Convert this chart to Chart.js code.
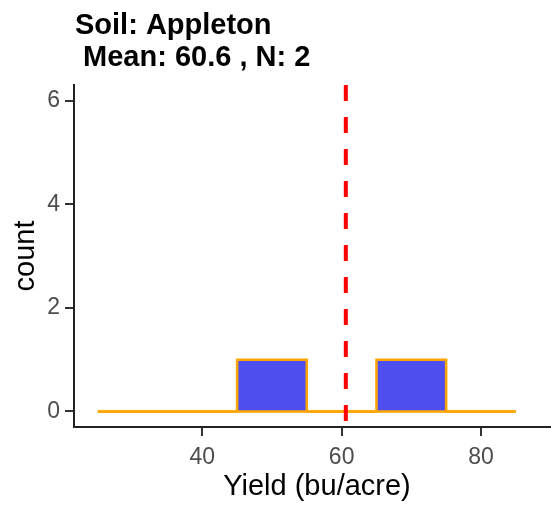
<!DOCTYPE html>
<html>
<head>
<meta charset="utf-8">
<title>Soil: Appleton</title>
<script src="https://cdn.jsdelivr.net/npm/chart.js@4.4.1/dist/chart.umd.min.js"></script>
<style>
    html, body { margin: 0; padding: 0; background: #ffffff; overflow: hidden; }
    #wrap { width: 551px; height: 508px; overflow: hidden; }
</style>
</head>
<body>
<div id="wrap"><canvas id="histChart" width="562" height="508"></canvas></div>
<script>
// Histogram data (bins of width 10)
const binEdges = [25, 35, 45, 55, 65, 75, 85];
const binCounts = [0, 0, 1, 0, 1, 0];
const meanYield = [60.6];
const sampleN = [2];
const xTicks = [40, 60, 80];
const yTicks = [0, 2, 4, 6];

const FONT = '"Liberation Sans", Arial, sans-serif';

// contour of the bars, built from bin edges and counts
const outline = [{ x: binEdges[0], y: 0 }];
binCounts.forEach(function(c, i) {
    outline.push({ x: binEdges[i], y: c });
    outline.push({ x: binEdges[i + 1], y: c });
});
outline.push({ x: binEdges[binEdges.length - 1], y: 0 });

const baseline = [
    { x: binEdges[0], y: 0 },
    { x: binEdges[binEdges.length - 1], y: 0 }
];

const yMin = -0.3, yMax = 6.3;
const meanLine = [
    { x: meanYield[0], y: yMax },
    { x: meanYield[0], y: yMin }
];

// title drawn above the panel
const titlePlugin = {
    id: 'plotTitle',
    afterDraw: function(chart) {
        const ctx = chart.ctx;
        ctx.save();
        ctx.fillStyle = '#000000';
        ctx.font = 'bold 29px ' + FONT;
        ctx.textAlign = 'left';
        ctx.textBaseline = 'alphabetic';
        ctx.fillText('Soil: Appleton', 75, 34);
        ctx.fillText(' Mean: ' + meanYield[0] + ' , N: ' + sampleN[0], 75, 66);
        ctx.restore();
    }
};

const ctx = document.getElementById('histChart').getContext('2d');
const histChart = new Chart(ctx, {
    type: 'line',
    data: {
        datasets: [{
            data: outline,
            borderColor: '#ffa500',
            backgroundColor: '#4f4fef',
            borderWidth: 2.5,
            fill: 'origin',
            tension: 0,
            pointRadius: 0,
            borderJoinStyle: 'miter',
            order: 3
        }, {
            data: baseline,
            borderColor: '#ffa500',
            borderWidth: 2.5,
            fill: false,
            pointRadius: 0,
            order: 2
        }, {
            data: meanLine,
            borderColor: '#ff0000',
            borderWidth: 4,
            borderDash: [16, 16],
            borderCapStyle: 'butt',
            fill: false,
            pointRadius: 0,
            order: 1
        }]
    },
    options: {
        responsive: false,
        devicePixelRatio: 1,
        animation: false,
        events: [],
        layout: {
            padding: { top: 85, right: 2, bottom: 0, left: 0 }
        },
        plugins: {
            legend: { display: false },
            tooltip: { enabled: false },
            title: { display: false }
        },
        scales: {
            x: {
                type: 'linear',
                min: 21.59,
                max: 91.34,
                afterFit: function(scale) { scale.height = 81; },
                afterBuildTicks: function(scale) {
                    scale.ticks = xTicks.map(v => ({ value: v }));
                },
                ticks: {
                    color: '#4d4d4d',
                    font: { family: FONT, size: 23 },
                    padding: 8,
                    maxRotation: 0
                },
                grid: {
                    display: true,
                    drawOnChartArea: false,
                    drawTicks: true,
                    tickLength: 9,
                    tickColor: '#333333',
                    lineWidth: 2
                },
                border: { display: true, color: '#222222', width: 2 },
                title: {
                    display: true,
                    text: 'Yield (bu/acre)',
                    color: '#000000',
                    font: { family: FONT, size: 29, lineHeight: 1.2 },
                    padding: { top: 0, bottom: 4 }
                }
            },
            y: {
                type: 'linear',
                min: yMin,
                max: yMax,
                afterFit: function(scale) { scale.width = 74; },
                afterBuildTicks: function(scale) {
                    scale.ticks = yTicks.map(v => ({ value: v }));
                },
                ticks: {
                    color: '#4d4d4d',
                    font: { family: FONT, size: 23 },
                    padding: 5
                },
                grid: {
                    display: true,
                    drawOnChartArea: false,
                    drawTicks: true,
                    tickLength: 9,
                    tickColor: '#333333',
                    lineWidth: 2
                },
                border: { display: true, color: '#222222', width: 2 },
                title: {
                    display: true,
                    text: 'count',
                    color: '#000000',
                    font: { family: FONT, size: 29, lineHeight: 1.2 },
                    padding: { top: 9, bottom: 0 }
                }
            }
        }
    },
    plugins: [titlePlugin]
});
</script>
</body>
</html>
